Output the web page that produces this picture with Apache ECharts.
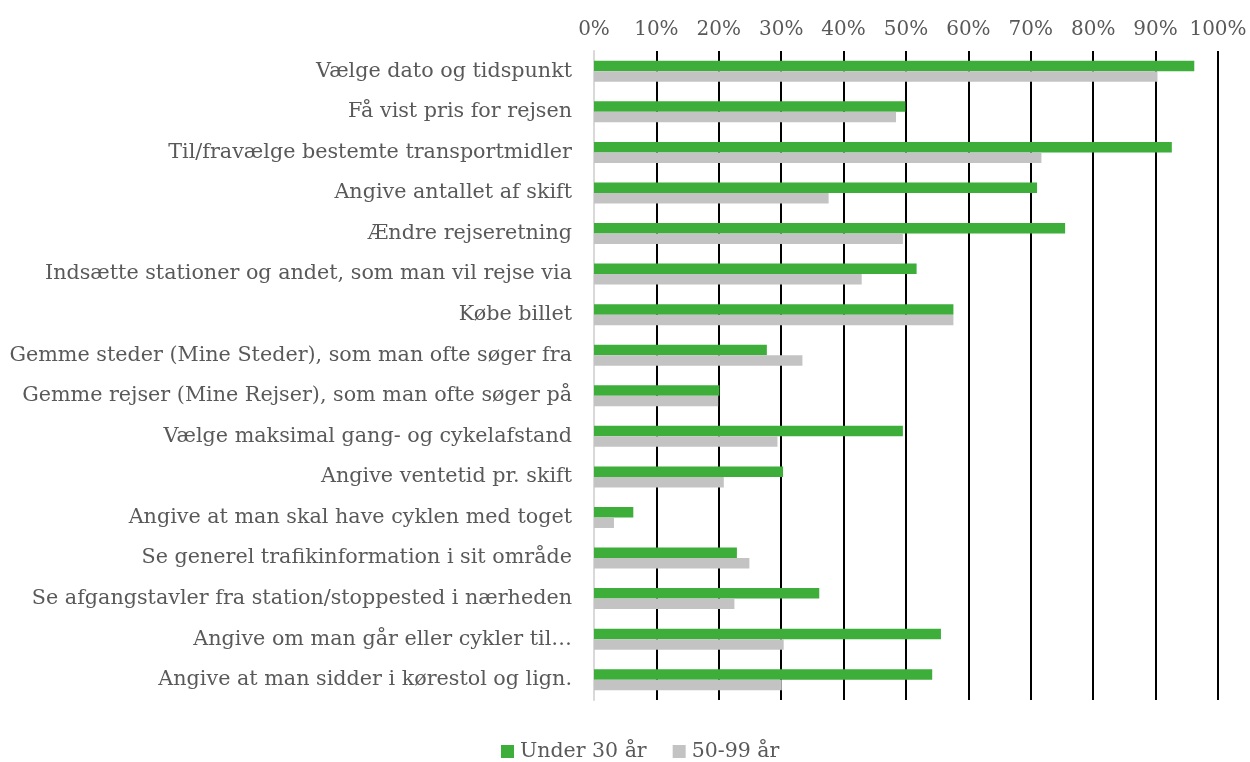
<!DOCTYPE html>
<html><head><meta charset="utf-8">
<script src="https://cdn.jsdelivr.net/npm/echarts@6/dist/echarts.min.js"></script>
<style>html,body{margin:0;padding:0;background:#fff}#c{width:1250px;height:762px}</style>
</head><body><div id="c"></div>
<script>
const categories = [
  "Vælge dato og tidspunkt",
  "Få vist pris for rejsen",
  "Til/fravælge bestemte transportmidler",
  "Angive antallet af skift",
  "Ændre rejseretning",
  "Indsætte stationer og andet, som man vil rejse via",
  "Købe billet",
  "Gemme steder (Mine Steder), som man ofte søger fra",
  "Gemme rejser (Mine Rejser), som man ofte søger på",
  "Vælge maksimal gang- og cykelafstand",
  "Angive ventetid pr. skift",
  "Angive at man skal have cyklen med toget",
  "Se generel trafikinformation i sit område",
  "Se afgangstavler fra station/stoppested i nærheden",
  "Angive om man går eller cykler til…",
  "Angive at man sidder i kørestol og lign."
];
const under30 = [96.2, 49.9, 92.6, 71.0, 75.5, 51.7, 57.6, 27.7, 20.1, 49.5, 30.3, 6.3, 22.9, 36.1, 55.6, 54.2];
const age50to99 = [90.3, 48.4, 71.7, 37.6, 49.5, 42.9, 57.6, 33.4, 19.9, 29.4, 20.8, 3.2, 24.9, 22.5, 30.4, 30.1];
const seriesNames = ["Under 30 år", "50-99 år"];
const xTicks = {min: 0, max: 100, interval: 10};

const FONT = "DejaVu Serif";
const chart = echarts.init(document.getElementById('c'));
chart.setOption({
  animation: false,
  textStyle: {fontFamily: FONT},
  grid: {left: 594, right: 32, top: 51, bottom: 62, containLabel: false},
  legend: {
    top: 736, left: 496, itemWidth: 13, itemHeight: 13, itemGap: 26,
    icon: 'rect',
    textStyle: {fontFamily: FONT, fontSize: 20.5, color: '#595959', padding: [0, 0, 0, 1]},
    data: seriesNames
  },
  xAxis: {
    type: 'value', position: 'top', min: xTicks.min, max: xTicks.max, interval: xTicks.interval,
    axisLine: {show: false}, axisTick: {show: false},
    axisLabel: {formatter: '{value}%', fontFamily: FONT, fontSize: 20, color: '#595959', margin: 11},
    splitLine: {show: true, lineStyle: {color: '#000', width: 2}}
  },
  yAxis: {
    type: 'category', data: categories, inverse: true,
    axisLine: {show: true, lineStyle: {color: '#d9d9d9', width: 2}},
    axisTick: {show: false},
    axisLabel: {fontFamily: FONT, fontSize: 20.7, color: '#595959', margin: 22}
  },
  series: [
    {name: seriesNames[0], type: 'bar', data: under30, barWidth: 10.5, barGap: '0%',
     itemStyle: {color: '#3dae3a'}},
    {name: seriesNames[1], type: 'bar', data: age50to99, barWidth: 10.5,
     itemStyle: {color: '#c3c3c3'}}
  ]
});
</script></body></html>
